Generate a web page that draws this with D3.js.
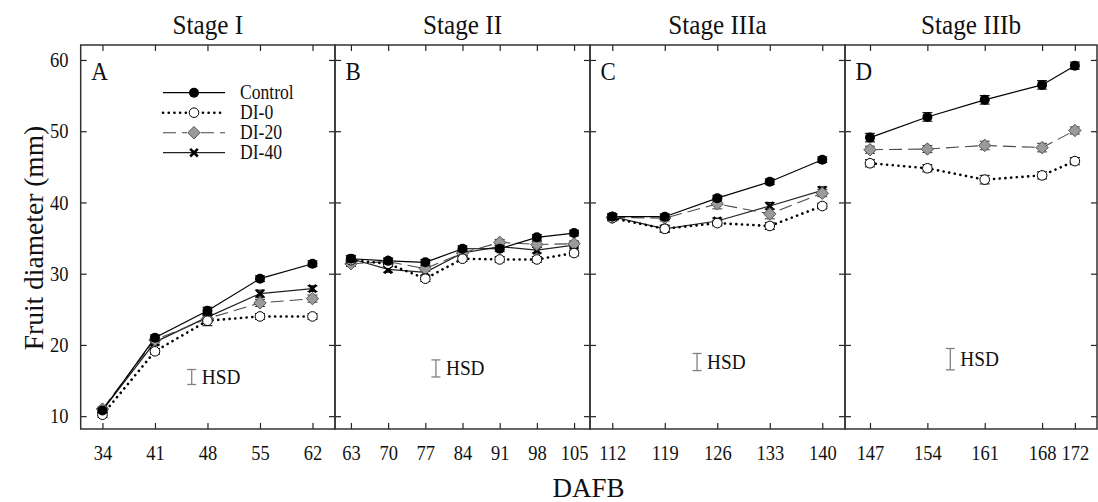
<!DOCTYPE html>
<html><head><meta charset="utf-8">
<script src="https://cdn.jsdelivr.net/npm/d3@7"></script>
<style>body{margin:0;background:#fff} svg text{font-family:"Liberation Serif",serif !important;}</style>
</head><body>
<svg id="c" width="1098" height="502" font-family="Liberation Serif" style="font-family:'Liberation Serif',serif"></svg>
<script>
// ---------- data ----------
const stageTitles = ["Stage I", "Stage II", "Stage IIIa", "Stage IIIb"];
const panelLetters = ["A", "B", "C", "D"];
const seriesNames = ["Control", "DI-0", "DI-20", "DI-40"];
const yTicks = [10, 20, 30, 40, 50, 60];

const daysA = [34, 41, 48, 55, 62];
const daysB = [63, 70, 77, 84, 91, 98, 105];
const daysC = [112, 119, 126, 133, 140];
const daysD = [147, 154, 161, 168, 172];

const controlA = [10.8, 21.0, 24.8, 29.3, 31.4];
const di0A     = [10.2, 19.1, 23.4, 24.0, 24.0];
const di20A    = [11.0, 20.7, 23.7, 25.9, 26.5];
const di40A    = [10.8, 20.4, 23.9, 27.2, 27.9];

const controlB = [32.1, 31.8, 31.6, 33.5, 33.5, 35.1, 35.7];
const di0B     = [31.9, 31.4, 29.3, 32.1, 32.0, 32.0, 32.9];
const di20B    = [31.4, 31.7, 30.7, 32.9, 34.4, 34.1, 34.2];
const di40B    = [32.1, 30.6, 30.2, 32.9, 33.8, 33.3, 34.0];

const controlC = [38.0, 38.0, 40.6, 42.9, 46.0];
const di0C     = [37.8, 36.3, 37.1, 36.7, 39.5];
const di20C    = [37.9, 37.8, 39.8, 38.4, 41.3];
const di40C    = [38.0, 36.3, 37.4, 39.5, 41.7];

const controlD = [49.1, 52.0, 54.4, 56.5, 59.2];
const di0D     = [45.5, 44.8, 43.2, 43.8, 45.8];
const di20D    = [47.4, 47.5, 48.0, 47.7, 50.1];

// standard errors
const seControlA = [0.3, 0.4, 0.5, 0.4, 0.4];
const seDi0A     = [0.4, 0.4, 0.7, 0.4, 0.4];
const seDi20A    = [0.3, 0.4, 0.5, 0.5, 0.5];
const seDi40A    = [0.3, 0.4, 0.5, 0.5, 0.4];
const seControlB = [0.4, 0.4, 0.4, 0.4, 0.4, 0.4, 0.4];
const seDi0B     = [0.4, 0.4, 0.4, 0.4, 0.4, 0.4, 0.4];
const seDi20B    = [0.4, 0.4, 0.4, 0.4, 0.4, 0.4, 0.4];
const seDi40B    = [0.4, 0.4, 0.4, 0.4, 0.4, 0.4, 0.4];
const seControlC = [0.4, 0.4, 0.4, 0.4, 0.4];
const seDi0C     = [0.4, 0.4, 0.4, 0.5, 0.4];
const seDi20C    = [0.4, 0.4, 0.7, 0.7, 0.5];
const seDi40C    = [0.4, 0.5, 0.4, 0.5, 0.5];
const seControlD = [0.6, 0.6, 0.6, 0.6, 0.5];
const seDi0D     = [0.5, 0.5, 0.6, 0.5, 0.5];
const seDi20D    = [0.5, 0.5, 0.6, 0.6, 0.5];

const hsdValues = [2.1, 2.4, 2.4, 3.0];
// HSD annotation anchors in data units [day, center mm]
const hsdAnchors = [[45.9, 15.5], [79.0, 16.7], [123.3, 17.6], [156.8, 18.0]];

// ---------- layout ----------
const FONT = "'Liberation Serif', serif";
const plotTop = 45, plotBottom = 429;
const panels = [
  {l: 80.7, r: 335, dom: [31.1, 65.0], days: daysA,
   series: [controlA, di0A, di20A, di40A], se: [seControlA, seDi0A, seDi20A, seDi40A]},
  {l: 335, r: 590, dom: [60, 108], days: daysB,
   series: [controlB, di0B, di20B, di40B], se: [seControlB, seDi0B, seDi20B, seDi40B]},
  {l: 590, r: 845, dom: [109.03, 143.03], days: daysC,
   series: [controlC, di0C, di20C, di40C], se: [seControlC, seDi0C, seDi20C, seDi40C]},
  {l: 845, r: 1097, dom: [143.95, 174.7], days: daysD,
   series: [controlD, di0D, di20D, null], se: [seControlD, seDi0D, seDi20D, null]}
];

const styles = [
  {stroke: "#000", width: 1.2, dash: null, cap: "butt", err: "#000"},
  {stroke: "#000", width: 2.6, dash: "0.1,5.6", cap: "round", err: "#000"},
  {stroke: "#4a4a4a", width: 1.1, dash: "13,6", cap: "butt", err: "#333"},
  {stroke: "#222", width: 1.2, dash: null, cap: "butt", err: "#000"}
];

const svg = d3.select("#c");
const y = d3.scaleLinear().domain([8.2, 62.1]).range([plotBottom, plotTop]);

function marker(g, i, cx, cy) {
  if (i === 0) {
    g.append("circle").attr("cx", cx).attr("cy", cy).attr("r", 5).attr("fill", "#000");
  } else if (i === 1) {
    g.append("circle").attr("cx", cx).attr("cy", cy).attr("r", 4.8)
      .attr("fill", "#fff").attr("stroke", "#000").attr("stroke-width", 1);
  } else if (i === 2) {
    const h = 6.2;
    g.append("path").attr("d", `M${cx},${cy - h}L${cx + h},${cy}L${cx},${cy + h}L${cx - h},${cy}Z`)
      .attr("fill", "#9a9a9a").attr("stroke", "#555").attr("stroke-width", 1);
  } else {
    const s = 3.8;
    g.append("path").attr("d", `M${cx - s},${cy - s}L${cx + s},${cy + s}M${cx - s},${cy + s}L${cx + s},${cy - s}`)
      .attr("stroke", "#000").attr("stroke-width", 2.6).attr("fill", "none");
  }
}

panels.forEach((p, pi) => {
  const x = d3.scaleLinear().domain(p.dom).range([p.l, p.r]);
  const g = svg.append("g");

  // axes
  const ax = g.append("g").attr("transform", `translate(0,${plotBottom})`)
    .call(d3.axisBottom(x).tickValues(p.days).tickSizeInner(-6).tickSizeOuter(0).tickPadding(16).tickFormat(d3.format("d")));
  ax.selectAll("text").attr("font-size", 21).attr("transform", "scale(0.88,1)");
  g.append("g").attr("transform", `translate(0,${plotTop})`)
    .call(d3.axisTop(x).tickValues(p.days).tickSizeInner(-6).tickSizeOuter(0).tickFormat(""));
  const ay = g.append("g").attr("transform", `translate(${p.l},0)`)
    .call(d3.axisLeft(y).tickValues(yTicks).tickSizeInner(-6).tickSizeOuter(0).tickPadding(14)
      .tickFormat(pi === 0 ? d3.format("d") : ""));
  ay.selectAll("text").attr("font-size", 21).attr("transform", "scale(0.88,1)");
  g.append("g").attr("transform", `translate(${p.r},0)`)
    .call(d3.axisRight(y).tickValues(yTicks).tickSizeInner(-6).tickSizeOuter(0).tickFormat(""));
  g.selectAll(".domain").remove();
  g.selectAll(".tick line").attr("stroke", "#222").attr("stroke-width", 1.2);

  // frame
  g.append("rect").attr("x", p.l).attr("y", plotTop).attr("width", p.r - p.l).attr("height", plotBottom - plotTop)
    .attr("fill", "none").attr("stroke", "#333").attr("stroke-width", 1.5);

  // title
  g.append("text").attr("transform", `translate(${(p.l + p.r) / 2},34) scale(0.9,1)`)
    .attr("text-anchor", "middle").attr("font-size", 28).text(stageTitles[pi]);
  // panel letter
  g.append("text").attr("transform", `translate(${p.l + 10.5},79.5) scale(0.92,1)`)
    .attr("font-size", 25).text(panelLetters[pi]);

  // HSD
  const [hx, hc] = hsdAnchors[pi];
  const half = hsdValues[pi] / 2;
  const X = x(hx), y1 = y(hc - half), y2 = y(hc + half);
  const hg = g.append("g").attr("stroke", "#808080").attr("stroke-width", 1.3);
  hg.append("line").attr("x1", X).attr("x2", X).attr("y1", y1).attr("y2", y2);
  hg.append("line").attr("x1", X - 4.5).attr("x2", X + 4.5).attr("y1", y1).attr("y2", y1);
  hg.append("line").attr("x1", X - 4.5).attr("x2", X + 4.5).attr("y1", y2).attr("y2", y2);
  g.append("text").attr("transform", `translate(${X + 10},${y(hc) + 7}) scale(0.92,1)`)
    .attr("font-size", 21).text("HSD");

  // lines
  const order = [3, 2, 1, 0];
  order.forEach(si => {
    const vals = p.series[si];
    if (!vals) return;
    const st = styles[si];
    const pts = p.days.map((d, k) => ({d, v: vals[k]}));
    g.append("path").datum(pts)
      .attr("d", d3.line().x(q => x(q.d)).y(q => y(q.v)))
      .attr("fill", "none").attr("stroke", st.stroke).attr("stroke-width", st.width)
      .attr("stroke-dasharray", st.dash).attr("stroke-linecap", st.cap);
  });
  // error bars + markers
  order.forEach(si => {
    const vals = p.series[si];
    if (!vals) return;
    const se = p.se[si];
    const mg = g.append("g");
    p.days.forEach((d, k) => {
      const cx = x(d), lo = y(vals[k] - se[k]), hi = y(vals[k] + se[k]);
      const eg = mg.append("g").attr("stroke", styles[si].err).attr("stroke-width", 1);
      eg.append("line").attr("x1", cx).attr("x2", cx).attr("y1", lo).attr("y2", hi);
      eg.append("line").attr("x1", cx - 5).attr("x2", cx + 5).attr("y1", lo).attr("y2", lo);
      eg.append("line").attr("x1", cx - 5).attr("x2", cx + 5).attr("y1", hi).attr("y2", hi);
      marker(mg, si, cx, y(vals[k]));
    });
  });
});

// legend (in panel A)
const lg = svg.append("g");
const legY = [92.7, 112.7, 132.7, 152.7];
seriesNames.forEach((name, i) => {
  const st = styles[i];
  lg.append("line").attr("x1", 163).attr("x2", 225).attr("y1", legY[i]).attr("y2", legY[i])
    .attr("stroke", st.stroke).attr("stroke-width", st.width).attr("stroke-dasharray", st.dash)
    .attr("stroke-linecap", st.cap);
  if (i === 2) {
    lg.append("rect").attr("x", 187).attr("y", legY[i] - 7).attr("width", 14).attr("height", 14).attr("fill", "#fff");
  }
  marker(lg, i, 194, legY[i]);
  lg.append("text").attr("transform", `translate(240,${legY[i] + 6.5}) scale(0.88,1)`)
    .attr("font-size", 20).text(name);
});

// axis titles
svg.append("text").attr("transform", "translate(43,238) rotate(-90)")
  .attr("text-anchor", "middle").attr("font-size", 27.5).text("Fruit diameter (mm)");
svg.append("text").attr("x", 588.5).attr("y", 497).attr("text-anchor", "middle")
  .attr("font-size", 27).text("DAFB");

// font for every text
svg.selectAll("g").attr("font-family", null);
svg.selectAll("text").attr("fill", "#111").style("font-family", FONT, "important");
</script>
</body></html>
